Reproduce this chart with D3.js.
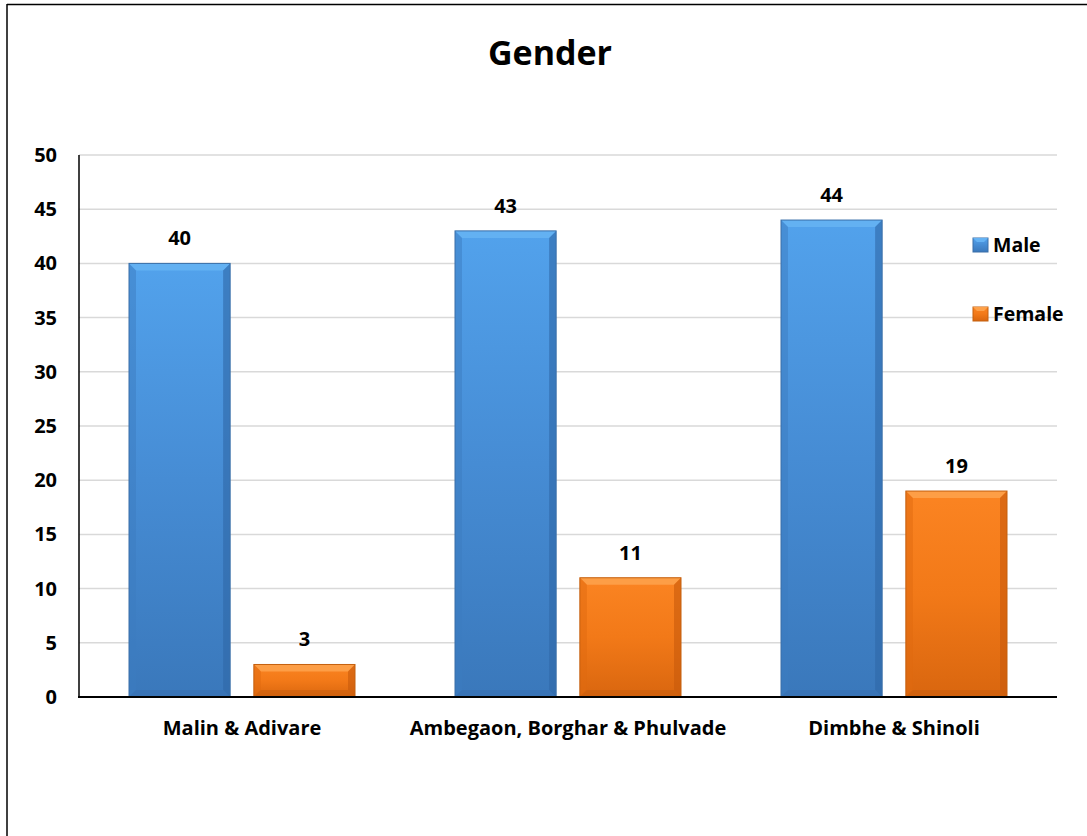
<!DOCTYPE html>
<html><head><meta charset="utf-8">
<script src="https://cdn.jsdelivr.net/npm/d3@7"></script>
<style>
html,body{margin:0;padding:0;background:#fff;}
svg{display:block;}
text{font-family:"Open Sans",sans-serif;font-weight:bold;fill:#000;}
</style></head>
<body>
<script>
const categories = ["Malin & Adivare", "Ambegaon, Borghar & Phulvade", "Dimbhe & Shinoli"];
const seriesNames = ["Male", "Female"];
const maleValues = [40, 43, 44];
const femaleValues = [3, 11, 19];
const yTicks = [0, 5, 10, 15, 20, 25, 30, 35, 40, 45, 50];
const title = "Gender";

const W = 1087, H = 836;
const FONT = '"Open Sans",sans-serif';
const svg = d3.select("body").append("svg").attr("width", W).attr("height", H);

const defs = svg.append("defs");
function grad(id, stops){
  const g = defs.append("linearGradient").attr("id", id).attr("x1",0).attr("y1",0).attr("x2",0).attr("y2",1);
  stops.forEach(s => g.append("stop").attr("offset", s[0]).attr("stop-color", s[1]));
}
grad("gMale", [[0,"#52a2ec"],[0.5,"#468cd4"],[1,"#3a78bb"]]);
grad("gFemale", [[0,"#fb8422"],[0.5,"#f27918"],[1,"#d9660f"]]);
const colors = {Male:{fill:"url(#gMale)", top:"#65b2f3", side:"#3b7cc0", sideR:"#2f67a6", bot:"#356eaf", stroke:"#3a6fa8"},
                Female:{fill:"url(#gFemale)", top:"#fda14a", side:"#e06a10", sideR:"#c85a0b", bot:"#c65b0c", stroke:"#c4600f"}};

// border (top + left)
svg.append("line").attr("x1",7).attr("x2",W).attr("y1",4.5).attr("y2",4.5).attr("stroke","#000").attr("stroke-width",1.5);
svg.append("line").attr("x1",7).attr("x2",7).attr("y1",4).attr("y2",H).attr("stroke","#000").attr("stroke-width",1.5);

const x0 = d3.scaleBand().domain(categories).range([79, 1057]).paddingInner(0).paddingOuter(0);
const y = d3.scaleLinear().domain([0, 50]).range([697, 155]);
const x1 = d3.scaleBand().domain(seriesNames).range([50, x0.bandwidth() - 50]).paddingInner(0.19).paddingOuter(0);

svg.append("text").attr("x", 550).attr("y", 65).attr("text-anchor","middle").style("font-size","34px").text(title);

// gridlines
svg.append("g").selectAll("line").data(yTicks.filter(d => d > 0)).join("line")
  .attr("x1", 79).attr("x2", 1057).attr("y1", d => y(d)).attr("y2", d => y(d))
  .attr("stroke", "#d9d9d9").attr("stroke-width", 1.5);

// y axis labels
const yAxis = d3.axisLeft(y).tickValues(yTicks).tickSize(0).tickPadding(22);
const ya = svg.append("g").attr("transform","translate(79,0)").call(yAxis);
ya.select(".domain").remove();
ya.selectAll("text").style("font-size","20px").style("font-family",FONT).style("font-weight","bold").attr("fill","#000");

const rows = categories.map((c,i) => ({cat:c, vals:[{s:"Male", v:maleValues[i]},{s:"Female", v:femaleValues[i]}]}));

const groups = svg.append("g").selectAll("g").data(rows).join("g")
  .attr("transform", d => `translate(${x0(d.cat)},0)`);

groups.each(function(d){
  const g = d3.select(this);
  d.vals.forEach(b => {
    const bx = x1(b.s), bw = x1.bandwidth(), by = y(b.v), bh = y(0) - y(b.v);
    const c = colors[b.s];
    const e = Math.min(7, bh/2);
    const bg = g.append("g");
    bg.append("rect").attr("x", bx).attr("y", by).attr("width", bw).attr("height", bh).attr("fill", c.fill);
    bg.append("path").attr("d", `M${bx},${by}L${bx+bw},${by}L${bx+bw-e},${by+e}L${bx+e},${by+e}Z`).attr("fill", c.top).attr("opacity",0.9);
    bg.append("path").attr("d", `M${bx},${by}L${bx+e},${by+e}L${bx+e},${by+bh-e}L${bx},${by+bh}Z`).attr("fill", c.side).attr("opacity",0.5);
    bg.append("path").attr("d", `M${bx+bw},${by}L${bx+bw-e},${by+e}L${bx+bw-e},${by+bh-e}L${bx+bw},${by+bh}Z`).attr("fill", c.sideR).attr("opacity",0.6);
    bg.append("path").attr("d", `M${bx},${by+bh}L${bx+e},${by+bh-e}L${bx+bw-e},${by+bh-e}L${bx+bw},${by+bh}Z`).attr("fill", c.bot).attr("opacity",0.5);
    bg.append("rect").attr("x", bx).attr("y", by).attr("width", bw).attr("height", bh).attr("fill","none").attr("stroke", c.stroke).attr("stroke-width",1);
    g.append("text").attr("x", bx + bw/2).attr("y", by - 18).attr("text-anchor","middle").style("font-size","20px").text(b.v);
  });
});

// axis lines
svg.append("line").attr("x1",79).attr("x2",79).attr("y1",155).attr("y2",698).attr("stroke","#000").attr("stroke-width",1.5);
svg.append("line").attr("x1",78).attr("x2",1057).attr("y1",697).attr("y2",697).attr("stroke","#000").attr("stroke-width",2);

// x labels
const xAxis = d3.axisBottom(x0).tickSize(0).tickPadding(24);
const xa = svg.append("g").attr("transform","translate(0,697)").call(xAxis);
xa.select(".domain").remove();
xa.selectAll("text").style("font-size","20px").style("font-family",FONT).style("font-weight","bold").attr("fill","#000");

// legend
const leg = svg.append("g").selectAll("g").data(seriesNames).join("g")
  .attr("transform", (d,i) => `translate(973,${238 + i*69})`);
leg.each(function(d){
  const g = d3.select(this), c = colors[d];
  g.append("rect").attr("width",15).attr("height",14).attr("fill", c.fill).attr("stroke", c.stroke);
  g.append("path").attr("d","M0,0L15,0L11,4L4,4Z").attr("fill", c.top);
});
leg.append("text").attr("x", 20).attr("y", 14).style("font-size","19.5px").text(d => d);
</script>
</body></html>
